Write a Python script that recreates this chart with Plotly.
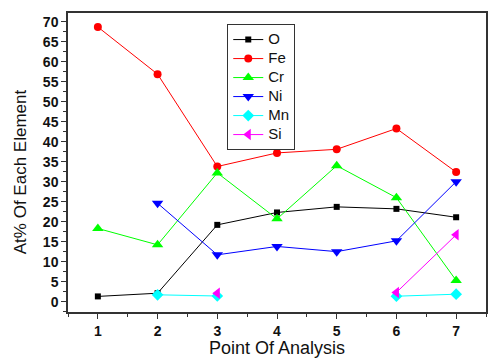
import plotly.graph_objects as go

points = [1, 2, 3, 4, 5, 6, 7]
O  = [1.3, 2.1, 19.2, 22.3, 23.7, 23.2, 21.1]
Fe = [68.7, 56.9, 33.8, 37.2, 38.1, 43.3, 32.4]
Cr = [18.3, 14.2, 32.2, 20.7, 34.0, 26.0, 5.3]
Ni = [None, 24.6, 11.7, 13.8, 12.5, 15.2, 30.0]
Mn = [None, 1.7, 1.4, None, None, 1.35, 1.85]
Si = [None, None, 2.1, None, None, 2.3, 16.7]
y_ticks = [0, 5, 10, 15, 20, 25, 30, 35, 40, 45, 50, 55, 60, 65, 70]

series = [
    ("O", O, "black", "square", 6),
    ("Fe", Fe, "red", "circle", 8),
    ("Cr", Cr, "#00ff00", "triangle-up", 10),
    ("Ni", Ni, "blue", "triangle-down", 10),
    ("Mn", Mn, "cyan", "diamond", 9),
    ("Si", Si, "magenta", "triangle-left", 10),
]

FONT = "Liberation Sans, Arial"

fig = go.Figure()
for name, vals, col, sym, sz in series:
    fig.add_trace(go.Scatter(
        x=points, y=vals,
        name='<span style="font-size:15px">%s</span>' % name,
        mode="lines+markers",
        line=dict(color=col, width=1),
        marker=dict(color=col, symbol=sym, size=sz),
        connectgaps=False,
    ))

axis_common = dict(
    showline=True, linecolor="#333", linewidth=1.5, mirror=True,
    ticks="outside", tickcolor="#333", ticklen=5, tickwidth=1,
    showgrid=False, zeroline=False,
    tickfont=dict(family=FONT, size=14, color="#111"),
)

fig.update_xaxes(
    range=[0.5, 7.5], tickvals=points,
    ticktext=["<b>%d</b>" % p for p in points], **axis_common,
    minor=dict(dtick=0.5, ticks="outside", ticklen=3, tickcolor="#333"),
)
fig.update_yaxes(
    range=[-2.6, 72.2], tickvals=y_ticks,
    ticktext=["<b>%d</b>" % v for v in y_ticks], **axis_common,
    minor=dict(dtick=2.5, tick0=0, ticks="outside", ticklen=3, tickcolor="#333"),
)

fig.add_annotation(
    text="Point Of Analysis", xref="paper", yref="paper",
    x=0.5, y=-36 / 299, xanchor="center", yanchor="middle", showarrow=False,
    font=dict(family=FONT, size=18, color="#111"),
)
fig.add_annotation(
    text="At% Of Each Element", xref="paper", yref="paper",
    x=(20 - 68) / 420, y=(312 - 172) / 299, xanchor="center", yanchor="middle",
    textangle=-90, showarrow=False,
    font=dict(family=FONT, size=17, color="#111"),
)

fig.update_layout(
    width=495, height=363,
    margin=dict(l=68, r=7, t=13, b=51),
    plot_bgcolor="white", paper_bgcolor="white",
    legend=dict(
        x=0.381, y=0.963, xanchor="left", yanchor="top",
        bordercolor="#333", borderwidth=1, bgcolor="white",
        font=dict(family=FONT, size=11, color="#111"),
        tracegroupgap=0, itemwidth=30,
    ),
)

fig.write_html("out.html")
